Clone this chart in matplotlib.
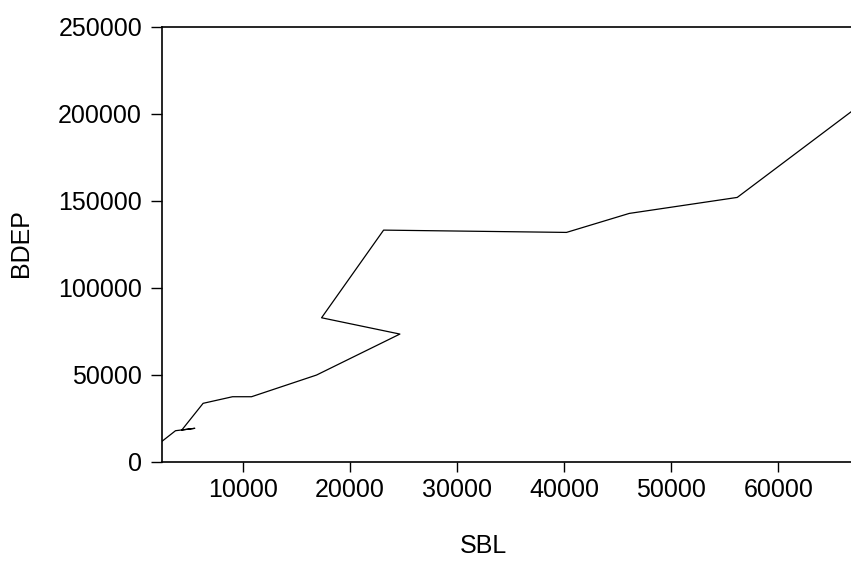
import matplotlib
matplotlib.use("Agg")
import matplotlib.pyplot as plt

# ============================================
# DATA
# ============================================
sbl = [2418, 3725, 5527, 4314, 6302, 9048, 10822, 16890, 24670,
       17360, 23150, 40220, 46080, 56160, 66780]
bdep = [11380, 17700, 19080, 18100, 33450, 37240, 37240, 49710, 73270,
        82640, 133040, 131720, 142640, 151840, 201030]

x_ticks = [10000, 20000, 30000, 40000, 50000, 60000]
y_ticks = [0, 50000, 100000, 150000, 200000, 250000]

plt.rcParams["font.family"] = ["Liberation Sans", "DejaVu Sans"]

# ============================================
# PLOT
# ============================================
fig = plt.figure(figsize=(8.51, 5.63), dpi=100)
ax = fig.add_axes([161.5 / 851, 1 - 461.5 / 563, 1 - 161.5 / 851, (461.5 - 26.7) / 563])

ax.plot(sbl, bdep, color="black", linewidth=0.9)

ax.set_xlim(min(sbl), max(sbl))
ax.set_ylim(0, 250000)
ax.set_xticks(x_ticks)
ax.set_yticks(y_ticks)
ax.set_xticklabels([str(v) for v in x_ticks])
ax.set_yticklabels([str(v) for v in y_ticks])

ax.spines["right"].set_visible(False)
for s in ["left", "top", "bottom"]:
    ax.spines[s].set_linewidth(1.2)

ax.tick_params(axis="y", direction="out", length=8, width=1, pad=6, labelsize=18)
ax.tick_params(axis="x", direction="out", length=7, width=1, pad=5, labelsize=18)

fig.text(483 / 851, 1 - 546 / 563, "SBL", ha="center", va="center", fontsize=18)
fig.text(21 / 851, 1 - 243 / 563, "BDEP", ha="center", va="center",
         rotation=90, fontsize=18)

fig.savefig("out.png", dpi=100)
